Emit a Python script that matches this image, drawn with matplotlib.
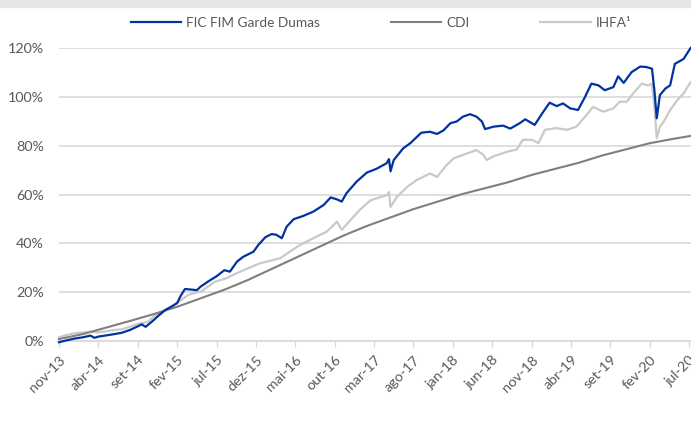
import matplotlib
matplotlib.use('Agg')

import numpy as np
import matplotlib.pyplot as plt
from matplotlib.patches import Rectangle

# months since nov-13 and cumulative returns in %
fic_m = [0, 1, 2, 3, 4, 4.5, 5, 6, 7, 8, 9, 10, 10.5, 11, 12, 12.5, 13.5, 14.5, 15, 15.5,
         16, 17, 17.5, 18, 19, 20, 21, 21.7, 22.6, 23.4, 24.7, 25.3, 26.2, 27, 27.6, 28.3,
         28.9, 29.8, 31, 32.3, 33.6, 34.5, 35.3, 35.9, 36.5, 37.8, 39.1, 40.3, 41.6, 41.9,
         42.1, 42.5, 43.7, 44.6, 46, 47.1, 48, 48.8, 49.7, 50.5, 51.3, 52.2, 53, 53.7, 54.1,
         55.2, 56.4, 57.3, 58.5, 59.2, 60.4, 61.5, 62.3, 63.2, 64, 64.9, 65.9, 66.8, 67.6,
         68.5, 69.3, 70.4, 71, 71.7, 72.7, 73.8, 74.6, 75.3, 75.6, 75.9, 76.3, 77, 77.6,
         78.2, 79.3, 80, 80.2]
fic_v = [-0.5, 0.3, 1.0, 1.5, 2.2, 1.3, 1.8, 2.3, 2.8, 3.4, 4.5, 6.0, 6.8, 5.8, 8.5, 10.0,
         12.7, 14.5, 15.5, 18.8, 21.3, 21.0, 20.8, 22.3, 24.5, 26.5, 29.0, 28.4, 32.5, 34.5,
         36.6, 39.3, 42.5, 43.8, 43.5, 42.1, 46.8, 49.9, 51.2, 53.0, 55.7, 58.8, 58.0, 57.1,
         60.5, 65.3, 69.0, 70.5, 72.8, 74.5, 69.5, 74.1, 78.9, 81.0, 85.3, 85.7, 84.8, 86.2,
         89.2, 89.9, 91.9, 92.9, 91.9, 89.9, 86.8, 87.8, 88.2, 87.0, 89.2, 90.8, 88.5, 93.9,
         97.6, 96.2, 97.3, 95.3, 94.6, 100.0, 105.4, 104.7, 102.7, 104.0, 108.4, 105.7,
         110.1, 112.4, 112.2, 111.5, 102.7, 91.2, 100.7, 103.4, 104.7, 113.5, 115.5, 119.0,
         120.0]

cdi_m = [0, 3, 6, 9, 12, 15, 18, 21, 24, 27, 30, 33, 36, 39, 42, 45, 48, 51, 54, 57, 60,
         63, 66, 69, 72, 75, 78, 80.2]
cdi_v = [0.8, 2.8, 5.5, 8.2, 11.0, 14.0, 17.5, 21.0, 25.0, 29.5, 34.0, 38.5, 43.0, 47.0,
         50.5, 54.0, 57.0, 60.0, 62.5, 65.0, 68.0, 70.5, 73.0, 76.0, 78.5, 81.0, 82.8, 84.0]

ihfa_m = [0, 1, 2, 3, 4, 5, 6, 7, 8, 9, 10, 11.3, 12.2, 13.9, 15.2, 16.4, 17, 18.1, 19.8,
          21.1, 23, 25.5, 28.1, 29.3, 30.6, 32.3, 34, 35.3, 35.9, 37, 38.2, 39.5, 40.3, 41.6,
          41.9, 42.1, 42.9, 44.2, 45.4, 47.1, 48, 49.2, 50.1, 51.3, 53, 53.9, 54.3, 55.2,
          56.9, 58.1, 58.9, 60, 60.9, 61.7, 63.2, 64.5, 65.7, 67, 67.8, 69.1, 70.4, 71.2,
          72.1, 72.9, 74, 74.8, 75.3, 75.6, 75.9, 76.3, 76.8, 77.6, 78.5, 79.3, 80.2]
ihfa_v = [1.5, 2.5, 3.2, 3.5, 3.8, 3.5, 4.0, 4.5, 4.8, 5.8, 7.0, 7.9, 10.6, 13.4, 16.1,
          18.8, 19.5, 20.4, 24.3, 25.5, 28.4, 31.8, 33.9, 36.6, 39.3, 42.1, 44.8, 48.9,
          45.5, 49.5, 53.7, 57.5, 58.4, 59.7, 61.0, 54.9, 59.0, 63.1, 65.9, 68.6, 67.2,
          72.0, 74.8, 76.2, 78.2, 76.2, 74.1, 75.7, 77.5, 78.4, 82.4, 82.4, 81.1, 86.5,
          87.2, 86.5, 87.8, 92.6, 95.9, 93.9, 95.3, 98.0, 98.0, 101.4, 105.4, 104.7, 105.4,
          95.9, 83.1, 87.8, 89.9, 94.6, 98.6, 101.4, 106.0]

tick_labels = ['nov-13', 'abr-14', 'set-14', 'fev-15', 'jul-15', 'dez-15', 'mai-16',
               'out-16', 'mar-17', 'ago-17', 'jan-18', 'jun-18', 'nov-18', 'abr-19',
               'set-19', 'fev-20', 'jul-20']
y_ticks = [0, 20, 40, 60, 80, 100, 120]

plt.rcParams['font.family'] = ['Lato', 'DejaVu Sans']
txt_color = '#595959'
grid_color = '#d9d9d9'

fig = plt.figure(figsize=(6.91, 4.26), dpi=100)
fig.patches.append(Rectangle((0, 1 - 7 / 426.), 1, 7 / 426., transform=fig.transFigure,
                             color='#e6e6e6', zorder=0))

ax = fig.add_axes([59 / 691., (426 - 341) / 426., 632 / 691., 293 / 426.])

ax.plot(cdi_m, cdi_v, color='#7f7f7f', lw=1.5, zorder=3, clip_on=False, label='CDI')
ax.plot(ihfa_m, ihfa_v, color='#c9c9c9', lw=1.6, zorder=2, clip_on=False, label='IHFA¹')
ax.plot(fic_m, fic_v, color='#0033a0', lw=1.6, zorder=4, clip_on=False,
        label='FIC FIM Garde Dumas')

ax.set_xlim(0, 80.25)
ax.set_ylim(0, 120)
ax.set_yticks(y_ticks)
ax.set_yticklabels(['%d%%' % v for v in y_ticks])
ax.set_xticks(np.arange(0, 81, 5))
ax.set_xticklabels(tick_labels, rotation=45, ha='right', va='top', rotation_mode='anchor')

for s in ['top', 'right', 'left']:
    ax.spines[s].set_visible(False)
ax.spines['bottom'].set_color(grid_color)
ax.spines['bottom'].set_linewidth(1.2)
ax.grid(axis='y', color=grid_color, lw=1.2)
ax.set_axisbelow(True)
ax.tick_params(axis='y', length=0, pad=11, labelsize=10.3, labelcolor=txt_color)
ax.tick_params(axis='x', length=4, width=1, color=grid_color, direction='out', pad=5,
               labelsize=10.3, labelcolor=txt_color)

handles, labels = ax.get_legend_handles_labels()
order = [2, 0, 1]
fig.legend([handles[i] for i in order], [labels[i] for i in order],
           loc='center left', bbox_to_anchor=(131 / 691., 1 - 23 / 426.), ncol=3,
           frameon=False, borderpad=0, borderaxespad=0, handlelength=3.7,
           handletextpad=0.37, columnspacing=5.2, fontsize=9.8, labelcolor=txt_color)

fig.savefig('out.png', dpi=100)
